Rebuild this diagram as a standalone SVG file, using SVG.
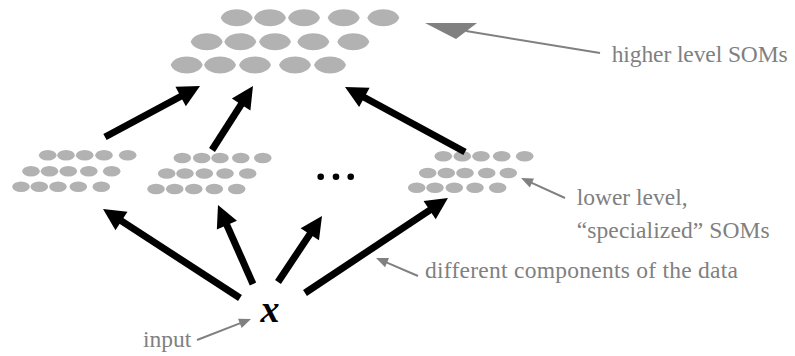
<svg xmlns="http://www.w3.org/2000/svg" xmlns:xlink="http://www.w3.org/1999/xlink" width="795" height="356" viewBox="0 0 795 356">
<style>
.big{fill:#b2b2b2}
.small{fill:#b2b2b2}
.lbl{font-family:"Liberation Serif","Times New Roman",serif;font-size:23.5px;fill:#808080}
.blk{stroke:#000;stroke-width:7;fill:none;marker-end:url(#bh)}
.gry{stroke:#808080;stroke-width:2;fill:none;marker-end:url(#gh)}
</style>
<defs>
<path id="lemon" d="M-16,0 C-12,-11.3 12,-11.3 16,0 C12,11.3 -12,11.3 -16,0 Z"/>
<ellipse id="cell" cx="0" cy="0" rx="8.8" ry="5.2"/>
<marker id="bh" markerUnits="userSpaceOnUse" markerWidth="24" markerHeight="24" refX="2" refY="11" orient="auto" overflow="visible"><path d="M0,0 L22,11 L0,22 Z" fill="#000"/></marker>
<marker id="gh" markerUnits="userSpaceOnUse" markerWidth="14" markerHeight="12" refX="2" refY="5" orient="auto" overflow="visible"><path d="M0,0 L12,5 L0,10 Z" fill="#808080"/></marker>
</defs>
<g id="som-top" class="big">
<use xlink:href="#lemon" x="236.7" y="17.8"/><use xlink:href="#lemon" x="270" y="17.8"/><use xlink:href="#lemon" x="304" y="17.8"/><use xlink:href="#lemon" x="343.7" y="17.8"/><use xlink:href="#lemon" x="383.3" y="17.8"/>
<use xlink:href="#lemon" x="206.7" y="41.7"/><use xlink:href="#lemon" x="240.3" y="41.7"/><use xlink:href="#lemon" x="275" y="41.7"/><use xlink:href="#lemon" x="313.3" y="41.7"/><use xlink:href="#lemon" x="353.3" y="41.7"/>
<use xlink:href="#lemon" x="186.7" y="65"/><use xlink:href="#lemon" x="220" y="65"/><use xlink:href="#lemon" x="255" y="65"/><use xlink:href="#lemon" x="295" y="65"/><use xlink:href="#lemon" x="330" y="65"/>
</g>
<g id="som-low-1" class="small">
<use xlink:href="#cell" x="47.7" y="155.3"/><use xlink:href="#cell" x="66" y="155.3"/><use xlink:href="#cell" x="84.7" y="155.3"/><use xlink:href="#cell" x="104" y="155.3"/><use xlink:href="#cell" x="127.7" y="155.3"/>
<use xlink:href="#cell" x="31" y="171.2"/><use xlink:href="#cell" x="49.5" y="171.2"/><use xlink:href="#cell" x="68.3" y="171.2"/><use xlink:href="#cell" x="88.8" y="171.2"/><use xlink:href="#cell" x="111.7" y="171.2"/>
<use xlink:href="#cell" x="21" y="186.7"/><use xlink:href="#cell" x="39.3" y="186.7"/><use xlink:href="#cell" x="58" y="186.7"/><use xlink:href="#cell" x="78.3" y="186.7"/><use xlink:href="#cell" x="101.3" y="186.7"/>
</g>
<g id="som-low-2" class="small">
<use xlink:href="#cell" x="182.3" y="158"/><use xlink:href="#cell" x="201.7" y="158"/><use xlink:href="#cell" x="220" y="158"/><use xlink:href="#cell" x="240.8" y="158"/><use xlink:href="#cell" x="262.8" y="158"/>
<use xlink:href="#cell" x="166.7" y="173.5"/><use xlink:href="#cell" x="185" y="173.5"/><use xlink:href="#cell" x="204.3" y="173.5"/><use xlink:href="#cell" x="225" y="173.5"/><use xlink:href="#cell" x="247.7" y="173.5"/>
<use xlink:href="#cell" x="156" y="189"/><use xlink:href="#cell" x="174.7" y="189"/><use xlink:href="#cell" x="193.8" y="189"/><use xlink:href="#cell" x="214.3" y="189"/><use xlink:href="#cell" x="236.7" y="189"/>
</g>
<g id="ellipsis" fill="#000">
<circle cx="320.7" cy="176.7" r="3.3"/><circle cx="336" cy="176.7" r="3.3"/><circle cx="350.7" cy="176.7" r="3.3"/>
</g>
<g id="som-low-3" class="small">
<use xlink:href="#cell" x="443.3" y="156.2"/><use xlink:href="#cell" x="462.3" y="156.2"/><use xlink:href="#cell" x="481" y="156.2"/><use xlink:href="#cell" x="501.7" y="156.2"/><use xlink:href="#cell" x="524.7" y="156.2"/>
<use xlink:href="#cell" x="427.7" y="173"/><use xlink:href="#cell" x="446.3" y="173"/><use xlink:href="#cell" x="465" y="173"/><use xlink:href="#cell" x="486.7" y="173"/><use xlink:href="#cell" x="508.3" y="173"/>
<use xlink:href="#cell" x="416.7" y="187.8"/><use xlink:href="#cell" x="435" y="187.8"/><use xlink:href="#cell" x="454.3" y="187.8"/><use xlink:href="#cell" x="475" y="187.8"/><use xlink:href="#cell" x="497.7" y="187.8"/>
</g>
<g id="input-x">
<text x="270" y="322" text-anchor="middle" font-family="Liberation Serif, Times New Roman, serif" font-size="38" font-weight="bold" font-style="italic" fill="#000">x</text>
</g>
<g id="connectors">
<line class="blk" x1="105" y1="137" x2="182.4" y2="95.5"/>
<line class="blk" x1="212" y1="150" x2="242.2" y2="102.8"/>
<line class="blk" x1="465" y1="152" x2="362.6" y2="96.5"/>
<line class="blk" x1="240" y1="298" x2="119.8" y2="219.9"/>
<line class="blk" x1="253" y1="284" x2="226.1" y2="223.3"/>
<line class="blk" x1="278" y1="282" x2="310.9" y2="232.6"/>
<line class="blk" x1="305" y1="293" x2="431.3" y2="209.1"/>
<line class="gry" x1="197" y1="340" x2="241.7" y2="322.6"/>
<line class="gry" x1="418" y1="276" x2="385.2" y2="261.9"/>
<line class="gry" x1="565" y1="198" x2="530.1" y2="182.1"/>
<line x1="600" y1="53" x2="466" y2="31" stroke="#808080" stroke-width="2"/>
<polygon points="425,23 477,23 456,39" fill="#808080"/>
</g>
<g id="label-higher"><text class="lbl" x="611.7" y="62" textLength="176">higher level SOMs</text></g>
<g id="label-lower"><text class="lbl" x="576.7" y="205">lower level,</text><text class="lbl" x="576.7" y="238" textLength="193">“specialized” SOMs</text></g>
<g id="label-components"><text class="lbl" x="425" y="278" textLength="313">different components of the data</text></g>
<g id="label-input"><text class="lbl" x="143" y="347">input</text></g>
</svg>
